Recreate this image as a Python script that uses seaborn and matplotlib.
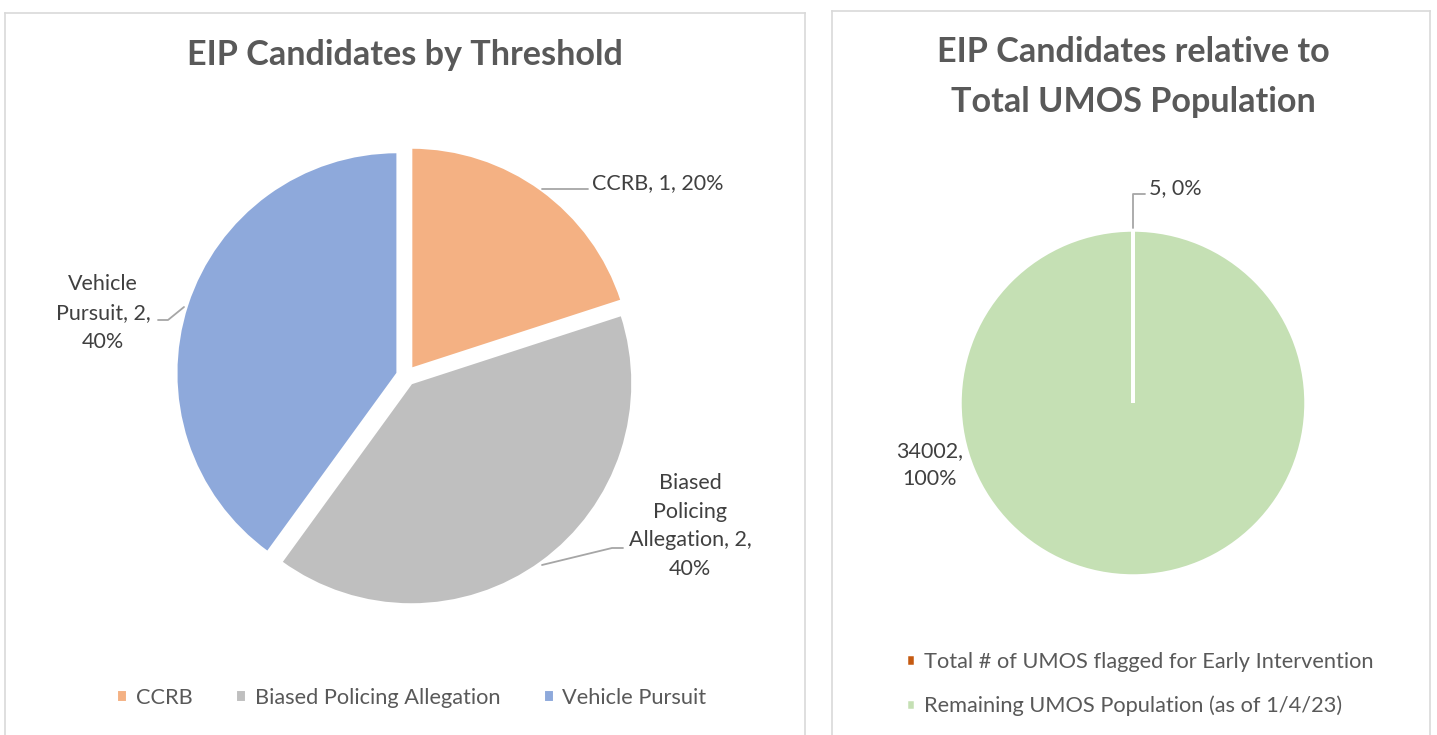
import textwrap
import matplotlib
matplotlib.use('Agg')
import matplotlib.pyplot as plt
import seaborn as sns

# Data
threshold_labels = ['CCRB', 'Biased Policing Allegation', 'Vehicle Pursuit']
threshold_counts = [1, 2, 2]
threshold_colors = ['#F4B183', '#BFBFBF', '#8EA9DB']

pop_labels = ['Total # of UMOS flagged for Early Intervention',
              'Remaining UMOS Population (as of 1/4/23)']
pop_counts = [5, 34002]
pop_colors = ['#C55A11', '#C5E0B4']

TITLE_LEFT = 'EIP Candidates by Threshold'
TITLE_RIGHT = 'EIP Candidates relative to\nTotal UMOS Population'

W, H = 1437, 735
TEXT = '#404040'
LEG = '#595959'
BORDER = '#D9D9D9'
FONT = 'Lato'
LBL_SIZE = 15.5
LEG_SIZE = 15.7
TITLE_SIZE = 24.6

sns.set_theme(style='white')
plt.rcParams['font.family'] = [FONT, 'DejaVu Sans']

fig = plt.figure(figsize=(W / 100, H / 100), dpi=100)


def panel(x0, x1, top):
    # axes in pixel units (y measured upward) so the pie is easy to place
    ax = fig.add_axes([x0 / W, -5 / H, (x1 - x0) / W, (H - top + 5) / H])
    ax.set_xlim(x0, x1)
    ax.set_ylim(-5, H - top)
    ax.set_xticks([])
    ax.set_yticks([])
    for side in ['left', 'right', 'top']:
        ax.spines[side].set_color(BORDER)
        ax.spines[side].set_linewidth(1.2)
    ax.spines['bottom'].set_visible(False)
    return ax


def label_text(name, count, share, width):
    s = f'{name}, {count}, {share:.0%}' if name else f'{count}, {share:.0%}'
    return textwrap.fill(s, width)


# ---- Left panel: pie by threshold
ax1 = panel(5, 805, 13)
total1 = sum(threshold_counts)
wedges1, _ = ax1.pie(threshold_counts, colors=threshold_colors, startangle=90,
                     counterclock=False, radius=221, center=(406, H - 376),
                     explode=[9] * 3, frame=True,
                     wedgeprops=dict(edgecolor='white', linewidth=1.5))
ax1.set_xlim(5, 805)
ax1.set_ylim(-5, H - 13)
ax1.set_aspect('auto')
ax1.text(405, H - 55, TITLE_LEFT, ha='center', va='center', fontsize=TITLE_SIZE,
         fontweight='bold', color=LEG)

shares1 = [c / total1 for c in threshold_counts]
# CCRB
ax1.plot([542, 588], [H - 189, H - 189], color='#A6A6A6', lw=1.3)
ax1.text(592, H - 183, label_text(threshold_labels[0], threshold_counts[0], shares1[0], 14),
         ha='left', va='center', fontsize=LBL_SIZE, color=TEXT)
# Biased Policing Allegation
ax1.plot([542, 612, 623], [H - 565, H - 548, H - 548], color='#A6A6A6', lw=1.3)
ax1.text(690, H - 526, label_text(threshold_labels[1], threshold_counts[1], shares1[1], 14),
         ha='center', va='center', fontsize=LBL_SIZE, color=TEXT, linespacing=1.55,
         multialignment='center')
# Vehicle Pursuit
ax1.plot([158, 168, 184], [H - 320, H - 320, H - 307], color='#A6A6A6', lw=1.3)
ax1.text(103, H - 313, label_text(threshold_labels[2], threshold_counts[2], shares1[2], 11),
         ha='center', va='center', fontsize=LBL_SIZE, color=TEXT, linespacing=1.55,
         multialignment='center')

ax1.legend(wedges1, threshold_labels, ncol=3, loc='center', bbox_to_anchor=(412, 37),
           bbox_transform=ax1.transData, frameon=False, fontsize=LEG_SIZE, labelcolor=LEG,
           handlelength=0.45, handleheight=0.45, handletextpad=0.4, columnspacing=2.0)

# ---- Right panel: candidates relative to population
ax2 = panel(832, 1430, 11)
total2 = sum(pop_counts)
wedges2, _ = ax2.pie(pop_counts, colors=pop_colors, startangle=90, counterclock=False,
                     radius=173, center=(1133, H - 403), frame=True,
                     wedgeprops=dict(edgecolor='white', linewidth=2.5))
ax2.set_xlim(832, 1430)
ax2.set_ylim(-5, H - 11)
ax2.set_aspect('auto')
ax2.text(1133, H - 77, TITLE_RIGHT, ha='center', va='center', fontsize=TITLE_SIZE,
         fontweight='bold', color=LEG, linespacing=1.69)

shares2 = [c / total2 for c in pop_counts]
ax2.plot([1133, 1133, 1145], [H - 228, H - 194, H - 194], color='#A6A6A6', lw=1.3)
ax2.text(1149, H - 188, label_text('', pop_counts[0], shares2[0], 10),
         ha='left', va='center', fontsize=LBL_SIZE, color=TEXT)
ax2.text(930, H - 465, label_text('', pop_counts[1], shares2[1], 7),
         ha='center', va='center', fontsize=LBL_SIZE, color=TEXT, linespacing=1.55,
         multialignment='center')

ax2.legend(wedges2, pop_labels, ncol=1, loc='center left', bbox_to_anchor=(886, H - 684),
           bbox_transform=ax2.transData, frameon=False, fontsize=LEG_SIZE, labelcolor=LEG,
           handlelength=0.45, handleheight=0.45, handletextpad=0.4, labelspacing=1.11)

fig.savefig('out.png', dpi=100, facecolor='white')
